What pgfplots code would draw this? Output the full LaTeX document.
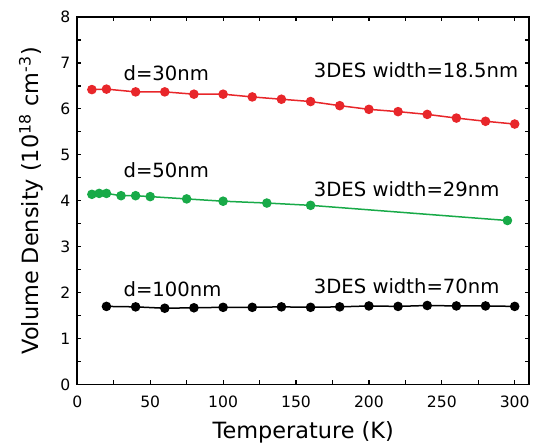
\documentclass[border=0pt]{standalone}
\usepackage{fontspec}
\setmainfont{DejaVu Sans}
\usepackage{pgfplots}
\pgfplotsset{compat=1.18}
\definecolor{redline}{RGB}{232,38,42}
\definecolor{greenline}{RGB}{24,170,72}

\begin{document}
\begin{tikzpicture}
\begin{axis}[
  scale only axis,
  width=226pt, height=183.75pt,
  xmin=0, xmax=310,
  ymin=0, ymax=8,
  xtick={0,50,...,300},
  minor xtick={25,75,...,275},
  ytick={0,1,...,8},
  minor ytick={0.5,1.5,...,7.5},
  tick align=inside,
  major tick length=2pt, minor tick length=2pt,
  tick style={black, line width=0.6pt},
  axis line style={line width=0.8pt},
  /pgf/number format/assume math mode=true,
  tick label style={font=\fontsize{7.8}{9}\selectfont},
  xticklabel style={yshift=-2pt},
  xlabel={Temperature (K)},
  ylabel={Volume Density (10\textsuperscript{18} cm\textsuperscript{-3})},
  label style={font=\fontsize{11.2}{13}\selectfont},
  xlabel style={at={(axis description cs:0.5,0)}, anchor=center, yshift=-23.85pt},
  ylabel style={at={(axis description cs:-0.102,0.5)}, anchor=center},
]
\addplot[color=redline, line width=0.75pt, mark=*, mark size=2pt] coordinates {
  (10,6.42) (20,6.43) (40,6.37) (60,6.37) (80,6.32) (100,6.32) (120,6.26) (140,6.21)
  (160,6.16) (180,6.07) (200,5.99) (220,5.94) (240,5.88) (260,5.80) (280,5.73) (300,5.67)
};
\addplot[color=greenline, line width=0.75pt, mark=*, mark size=2pt] coordinates {
  (10,4.14) (15,4.16) (20,4.16) (30,4.11) (40,4.11) (50,4.09) (75,4.04) (100,3.99)
  (130,3.95) (160,3.90) (295,3.57)
};
\addplot[color=black, line width=0.75pt, mark=*, mark size=2pt] coordinates {
  (20,1.70) (40,1.69) (60,1.66) (80,1.67) (100,1.68) (120,1.68) (140,1.69) (160,1.68)
  (180,1.69) (200,1.71) (220,1.70) (240,1.72) (260,1.71) (280,1.71) (300,1.70)
};
\begin{scope}[every node/.style={anchor=west, inner sep=0pt, font=\fontsize{9.8}{11}\selectfont}]
\node at (axis cs:31.5,6.77) {d=30nm};
\node at (axis cs:31.5,4.67) {d=50nm};
\node at (axis cs:31.5,2.08) {d=100nm};
\node at (axis cs:162,6.84) {3DES width=18.5nm};
\node at (axis cs:162,4.26) {3DES width=29nm};
\node at (axis cs:162,2.15) {3DES width=70nm};
\end{scope}
\end{axis}
\pgfresetboundingbox
\path[use as bounding box] (-38.65pt,-31.5pt) rectangle (230.35pt,192.25pt);
\end{tikzpicture}
\end{document}
